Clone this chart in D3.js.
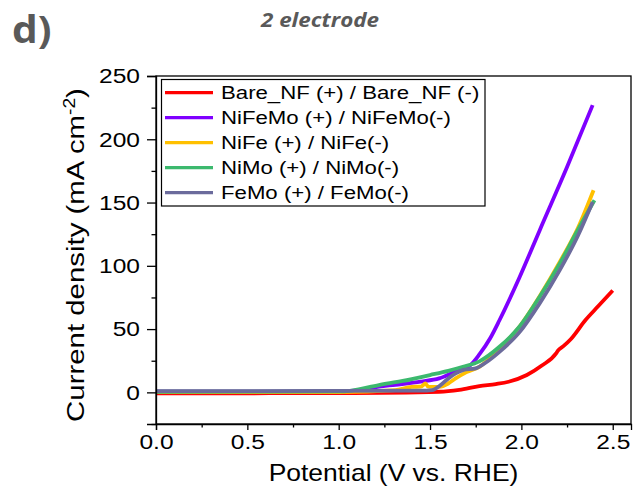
<!DOCTYPE html>
<html>
<head>
<meta charset="utf-8">
<script src="https://cdn.jsdelivr.net/npm/d3@7"></script>
<style>
  html, body { margin: 0; padding: 0; background: #fff; }
  svg { display: block; }
  text { font-family: "Liberation Sans", Arial, sans-serif; }
</style>
</head>
<body>
<svg id="chart" width="634" height="488"></svg>
<script>
// Polarisation curves of two-electrode cells (potential in V vs. RHE, current density in mA cm^-2)
const seriesNames = [
  "Bare_NF (+) / Bare_NF (-)",
  "NiFeMo (+) / NiFeMo(-)",
  "NiFe (+) / NiFe(-)",
  "NiMo (+) / NiMo(-)",
  "FeMo (+) / FeMo(-)"
];
const seriesColors = ["#ff0000", "#7f00ff", "#ffc000", "#3cb96e", "#6b6b9c"];

const bareV = [0, 1.0, 1.55, 1.66, 1.77, 1.86, 1.93, 2.03, 2.11, 2.19, 2.2, 2.23, 2.27, 2.35, 2.42, 2.5];
const bareJ = [-0.8, -0.5, 0.5, 2, 5, 6.6, 8.4, 13.7, 21, 30.8, 33, 36.5, 42, 57, 68, 80.5];

const nifemoV = [0, 1.0, 1.1, 1.22, 1.31, 1.45, 1.55, 1.66, 1.72, 1.77, 1.83, 1.88, 1.99, 2.1, 2.25, 2.39];
const nifemoJ = [0.5, 0.8, 1.5, 4.5, 6, 8.5, 11, 18, 21.5, 30, 43, 57, 91, 128, 178, 227];

const nifeV = [0, 1.0, 1.31, 1.4, 1.45, 1.475, 1.49, 1.55, 1.6, 1.64, 1.7, 1.77, 1.88, 1.99, 2.1, 2.21, 2.31, 2.395];
const nifeJ = [0.2, 0.3, 1.8, 4.4, 4.5, 7, 4.5, 4.4, 7, 11, 16, 20.2, 34.7, 52, 76, 103, 130, 159.7];

const nimoV = [0, 1.0, 1.06, 1.22, 1.35, 1.5, 1.6, 1.68, 1.77, 1.88, 1.99, 2.1, 2.21, 2.3, 2.4];
const nimoJ = [0.5, 0.8, 1.2, 5.8, 9, 13.7, 17, 20.2, 24.5, 36, 52, 75.5, 101.8, 126, 151.8];

const femoV = [0, 1.0, 1.45, 1.51, 1.56, 1.6, 1.64, 1.68, 1.75, 1.81, 1.88, 1.99, 2.1, 2.21, 2.31, 2.39];
const femoJ = [1, 1.1, 1.3, 1.8, 6, 11, 15, 17.6, 19, 24, 32, 47.6, 70.3, 96.6, 124, 150.5];

const xTicks = [0, 0.5, 1.0, 1.5, 2.0, 2.5];
const xMinorTicks = [0.25, 0.75, 1.25, 1.75, 2.25];
const yTicks = [0, 50, 100, 150, 200, 250];
const yMinorTicks = [-25, 25, 75, 125, 175, 225];

const seriesData = [
  [bareV, bareJ], [nifemoV, nifemoJ], [nifeV, nifeJ], [nimoV, nimoJ], [femoV, femoJ]
].map(([v, j]) => v.map((d, i) => ({ v: d, j: j[i] })));

const svg = d3.select("#chart");
const plot = { left: 156, right: 631, top: 76, bottom: 424 };
const widen = 1.17; // horizontal glyph stretch used for all lettering

const x = d3.scaleLinear().domain([0, 2.6]).range([plot.left, plot.right]);
const y = d3.scaleLinear().domain([-25, 250]).range([plot.bottom, plot.top]);

// Panel letter and title
svg.append("text").attr("transform", "translate(12,43) scale(1.1,1)")
  .style("font-family", "'Open Sans', sans-serif").style("font-weight", "bold")
  .style("font-size", "37px").attr("fill", "#595959").text("d)");
svg.append("text").attr("transform", "translate(261,27) scale(1.12,1)")
  .style("font-family", "'Open Sans', sans-serif").style("font-weight", "bold")
  .style("font-style", "italic").style("font-size", "20px").attr("fill", "#595959")
  .text("2 electrode");

// Curves
const line = d3.line().x(d => x(d.v)).y(d => y(d.j)).curve(d3.curveMonotoneX);
svg.append("g").selectAll("path").data(seriesData).join("path")
  .attr("d", line).attr("fill", "none")
  .attr("stroke", (d, i) => seriesColors[i])
  .attr("stroke-width", 3.8).attr("stroke-linejoin", "round");

// Frame
svg.append("rect").attr("x", plot.left).attr("y", plot.top)
  .attr("width", plot.right - plot.left).attr("height", plot.bottom - plot.top)
  .attr("fill", "none").attr("stroke", "#000").attr("stroke-width", 1.3);

// Axes
const fmtX = d3.format(".1f");
const xAxis = svg.append("g").attr("transform", `translate(0,${plot.bottom})`)
  .call(d3.axisBottom(x).tickValues(xTicks).tickFormat(fmtX).tickSize(6).tickPadding(4));
svg.append("g").attr("transform", `translate(0,${plot.bottom})`)
  .call(d3.axisBottom(x).tickValues(xMinorTicks).tickFormat("").tickSize(3.5))
  .call(g => g.select(".domain").remove());
const yAxis = svg.append("g").attr("transform", `translate(${plot.left},0)`)
  .call(d3.axisLeft(y).tickValues(yTicks).tickSize(9).tickPadding(7));
svg.append("g").attr("transform", `translate(${plot.left},0)`)
  .call(d3.axisLeft(y).tickValues(yMinorTicks).tickFormat("").tickSize(4.5))
  .call(g => g.select(".domain").remove());

svg.selectAll(".tick line").attr("stroke", "#000").attr("stroke-width", 1.3);
svg.selectAll(".domain").attr("stroke", "#000").attr("stroke-width", 1.3);
xAxis.selectAll(".tick text").style("font-size", "21px").attr("fill", "#000")
  .style("font-family", "'Liberation Sans', Arial, sans-serif")
  .attr("transform", `scale(${widen},1)`);
yAxis.selectAll(".tick text").style("font-size", "21px").attr("fill", "#000")
  .style("font-family", "'Liberation Sans', Arial, sans-serif")
  .attr("x", -16 / widen).attr("transform", `scale(${widen},1)`);

// Axis titles
svg.append("text")
  .attr("transform", `translate(${(plot.left + plot.right) / 2},481) scale(1.15,1)`)
  .attr("text-anchor", "middle").style("font-size", "23px").text("Potential (V vs. RHE)");
const yt = svg.append("text")
  .attr("transform", "translate(83.5,255) rotate(-90) scale(1.2,1)")
  .attr("text-anchor", "middle").style("font-size", "24.5px");
yt.append("tspan").text("Current density (mA cm");
yt.append("tspan").attr("dy", -9).style("font-size", "16px").text("-2");
yt.append("tspan").attr("dy", 9).text(")");

// Legend
const lg = svg.append("g");
lg.append("rect").attr("x", 161.5).attr("y", 79.5).attr("width", 323.5).attr("height", 126.5)
  .attr("fill", "#fff").attr("stroke", "#000").attr("stroke-width", 1.2);
const rows = lg.selectAll("g.row").data(seriesNames).join("g").attr("class", "row")
  .attr("transform", (d, i) => `translate(0,${92.7 + i * 25})`);
rows.append("line").attr("x1", 165).attr("x2", 213).attr("y1", 0).attr("y2", 0)
  .attr("stroke", (d, i) => seriesColors[i]).attr("stroke-width", 3.2);
rows.append("text").attr("transform", "translate(221,6.6) scale(1.2,1)")
  .style("font-size", "18.5px").text(d => d);
</script>
</body>
</html>
